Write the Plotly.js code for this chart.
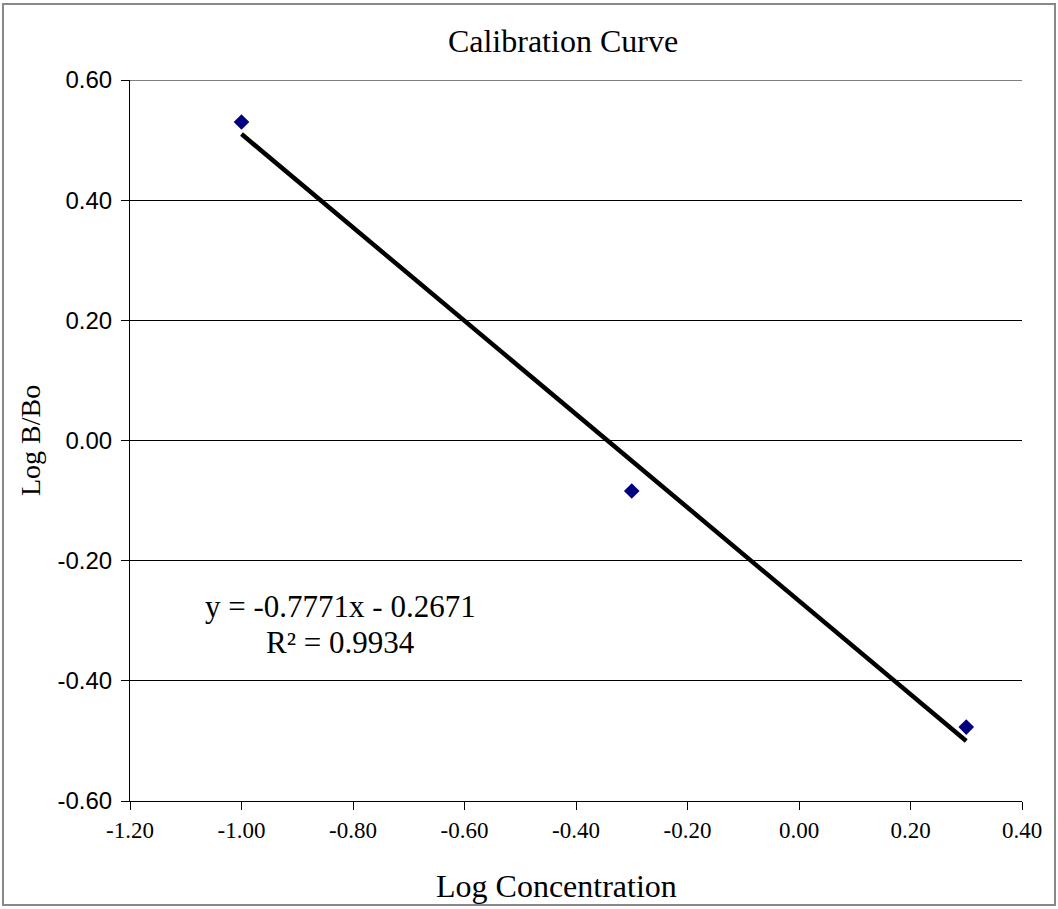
<!DOCTYPE html>
<html>
<head>
<meta charset="utf-8">
<script src="https://cdn.plot.ly/plotly-3.0.1.min.js"></script>
<style>
html,body{margin:0;padding:0;background:#fff;}
#chart{width:1058px;height:909px;}
</style>
</head>
<body>
<div id="chart"></div>
<script>
// Data points
const logConcentration = [-1.00, -0.30, 0.30];
const logBBo = [0.530, -0.084, -0.477];

// Linear trendline endpoints (as drawn)
const trendX = [-1.00, 0.30];
const trendY = [0.510, -0.500];

const xTickVals = [-1.2, -1.0, -0.8, -0.6, -0.4, -0.2, 0.0, 0.2, 0.4];
const xTickText = ["-1.20", "-1.00", "-0.80", "-0.60", "-0.40", "-0.20", "0.00", "0.20", "0.40"];
const yTickVals = [-0.6, -0.4, -0.2, 0.0, 0.2, 0.4, 0.6];
const yTickText = ["-0.60", "-0.40", "-0.20", "0.00", "0.20", "0.40", "0.60"];

const chartTitle = "Calibration Curve";
const xTitle = "Log Concentration";
const yTitle = "Log B/Bo";
const equationLine1 = "y = -0.7771x - 0.2671";
const equationLine2 = "R² = 0.9934";

const serif = "Liberation Serif, Times New Roman, serif";
const sans = "Liberation Sans, Arial, sans-serif";

const traces = [
  {
    x: trendX, y: trendY, mode: "lines", type: "scatter",
    line: {color: "#000000", width: 4.5}, hoverinfo: "skip", showlegend: false
  },
  {
    x: logConcentration, y: logBBo, mode: "markers", type: "scatter",
    marker: {symbol: "diamond", size: 12, color: "#000080"}, showlegend: false
  }
];

// plot area: left 130px, right 1022px, top 80px, bottom 801px
const PL = 130, PR = 1022, PT = 80, PB = 801;
const px2paperX = p => (p - PL) / (PR - PL);
const px2paperY = p => (PB - p) / (PB - PT);

const layout = {
  width: 1058, height: 909,
  margin: {l: PL, r: 1058 - PR, t: PT, b: 909 - PB},
  paper_bgcolor: "#ffffff", plot_bgcolor: "#ffffff",
  showlegend: false,
  title: {text: chartTitle, font: {family: serif, size: 32, color: "#000"},
          xref: "container", yref: "container",
          x: 563 / 1058, xanchor: "center", y: 1 - 41 / 909, yanchor: "middle"},
  xaxis: {
    range: [-1.2, 0.4], tickmode: "array", tickvals: xTickVals, ticktext: xTickText,
    showgrid: false, zeroline: false, showline: true, linecolor: "#000", linewidth: 1,
    ticks: "outside", ticklen: 8, tickcolor: "#000", tickwidth: 1,
    tickfont: {family: serif, size: 23, color: "#000"},
    fixedrange: true
  },
  yaxis: {
    range: [-0.6, 0.6], tickmode: "array", tickvals: yTickVals, ticktext: yTickText,
    showgrid: true, gridcolor: "#000", gridwidth: 1,
    zeroline: false, showline: true, linecolor: "#000", linewidth: 1,
    ticks: "outside", ticklen: 8, tickcolor: "#000", tickwidth: 1,
    ticklabelstandoff: 4,
    tickfont: {family: sans, size: 24, color: "#000"},
    title: {text: yTitle, font: {family: serif, size: 28, color: "#000"}, standoff: 8},
    fixedrange: true
  },
  annotations: [
    {
      text: xTitle, xref: "paper", yref: "paper", x: px2paperX(556), y: px2paperY(886),
      showarrow: false, xanchor: "center", yanchor: "middle",
      font: {family: serif, size: 32, color: "#000"}
    },
    {
      text: equationLine1, x: -0.8233, y: -0.2755, xref: "x", yref: "y",
      showarrow: false, xanchor: "center", yanchor: "middle",
      font: {family: serif, size: 31, color: "#000"}
    },
    {
      text: equationLine2, x: -0.8233, y: -0.3355, xref: "x", yref: "y",
      showarrow: false, xanchor: "center", yanchor: "middle",
      font: {family: serif, size: 31, color: "#000"}
    }
  ],
  shapes: [
    {type: "line", xref: "paper", yref: "y", x0: 0, x1: 1, y0: 0.6, y1: 0.6,
     line: {color: "#000", width: 1}},
    {type: "rect", xref: "paper", yref: "paper",
     x0: px2paperX(3), x1: px2paperX(1055), y0: px2paperY(905), y1: px2paperY(4),
     line: {color: "#888888", width: 2}, fillcolor: "rgba(0,0,0,0)", layer: "below"}
  ]
};

Plotly.newPlot("chart", traces, layout, {displayModeBar: false, staticPlot: true});
</script>
</body>
</html>
